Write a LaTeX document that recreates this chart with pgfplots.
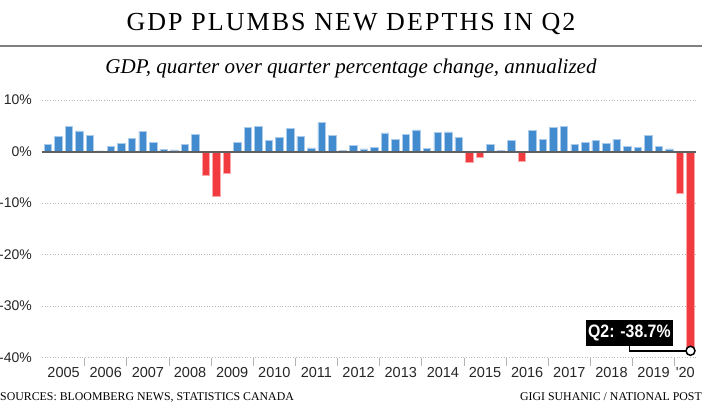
\documentclass[border=0pt]{standalone}
\usepackage{pgfplots}
\pgfplotsset{compat=1.18}
\usepackage{graphicx}
\usepackage{fontspec}
\setmainfont{Liberation Serif}
\newfontfamily\sansf{Liberation Sans}
\newfontfamily\titlef[LetterSpace=8]{Liberation Serif}
\definecolor{barblue}{RGB}{66,139,206}
\definecolor{barred}{RGB}{242,59,62}
\definecolor{zeroline}{RGB}{95,95,95}
\begin{document}
\begin{tikzpicture}
\useasboundingbox (0pt,0pt) rectangle (702pt,-407pt);
\node[anchor=base, inner sep=0pt] at (351pt,-30pt) {\titlef\fontsize{26}{26}\selectfont GDP PLUMBS NEW DEPTHS IN Q2};
\draw[color=gray, line width=1.5pt] (0pt,-46pt) -- (702pt,-46pt);
\node[anchor=base, inner sep=0pt] at (351pt,-73pt) {\fontsize{21}{21}\selectfont\itshape GDP, quarter over quarter percentage change, annualized};
\node[anchor=base west, inner sep=0pt] at (0pt,-400pt) {\fontsize{11.85}{12}\selectfont SOURCES: BLOOMBERG NEWS, STATISTICS CANADA};
\node[anchor=base east, inner sep=0pt] at (702pt,-400pt) {\fontsize{11.85}{12}\selectfont GIGI SUHANIC / NATIONAL POST};
\begin{axis}[
  at={(42pt,-357.5pt)}, anchor=south west,
  x=10.536pt, y=5.15pt,
  xmin=-0.55, xmax=61.55, ymin=-40, ymax=10,
  clip=false,
  axis line style={draw=none},
  ytick={-40,-30,-20,-10,0,10},
  yticklabels={-40\%,-30\%,-20\%,-10\%,0\%,10\%},
  yticklabel style={anchor=east, inner sep=0pt, xshift=-10pt, font=\sansf\fontsize{14}{14}\selectfont, text=black!85},
  ymajorgrids,
  grid style={draw=gray!55, line width=0.7pt, dash pattern=on 0.9pt off 1.8pt},
  xtick={1.5,5.5,9.5,13.5,17.5,21.5,25.5,29.5,33.5,37.5,41.5,45.5,49.5,53.5,57.5,60.5},
  xticklabels={2005,2006,2007,2008,2009,2010,2011,2012,2013,2014,2015,2016,2017,2018,2019,'20},
  xticklabel style={anchor=north, inner sep=0pt, yshift=-10pt, font=\sansf\fontsize{14.5}{14.5}\selectfont, text=black!85},
  minor xtick={3.5,7.5,11.5,15.5,19.5,23.5,27.5,31.5,35.5,39.5,43.5,47.5,51.5,55.5,59.5},
  major tick length=0pt, minor tick length=8pt,
  tick align=outside,
  xtick pos=left, ytick pos=left,
  minor tick style={draw=gray!60, line width=0.8pt},
  major tick style={draw=none},
]
\addplot[ybar, bar shift=0pt, bar width=7.5pt, fill=barblue, draw=barblue!45!white, line width=0.7pt] coordinates {
(0,1.4) (1,2.85) (2,4.9) (3,4.0) (4,3.2) (5,0.1) (6,1.0) (7,1.6) (8,2.6) (9,3.9)
(10,1.7) (11,0.45) (12,0.3) (13,1.4) (14,3.3) (18,1.8) (19,4.7)
(20,4.9) (21,2.1) (22,2.8) (23,4.5) (24,3.0) (25,0.7) (26,5.6) (27,3.2) (28,0.2) (29,1.2)
(30,0.5) (31,0.8) (32,3.6) (33,2.3) (34,3.3) (35,4.2) (36,0.65) (37,3.7) (38,3.8) (39,2.8)
(42,1.4) (43,0.25) (44,2.2) (46,4.1) (47,2.3) (48,4.7) (49,4.8)
(50,1.4) (51,1.75) (52,2.1) (53,1.55) (54,2.4) (55,1.0) (56,0.85) (57,3.2) (58,1.0) (59,0.5)
};
\addplot[ybar, bar shift=0pt, bar width=7.5pt, fill=barred, draw=barred!45!white, line width=0.7pt] coordinates {
(15,-4.6) (16,-8.8) (17,-4.3) (40,-2.2) (41,-1.1) (45,-2.0) (60,-8.2) (61,-38.7)
};
\draw[line width=2pt, color=zeroline] (axis cs:-0.55,0) -- (axis cs:61.55,0);
\node[fill=black, text=white, inner xsep=2.5pt, inner ysep=0pt, minimum height=26pt] (lab) at (axis cs:55.2,-35.24) {\sansf\bfseries\fontsize{18}{18}\selectfont\scalebox{0.88}[1]{Q2: -38.7\%}};
\draw[line width=1.5pt] (lab.south) |- (axis cs:61,-38.7);
\draw[line width=1.5pt, fill=white] (axis cs:61,-38.7) circle[radius=4.5pt];
\end{axis}
\end{tikzpicture}
\end{document}
